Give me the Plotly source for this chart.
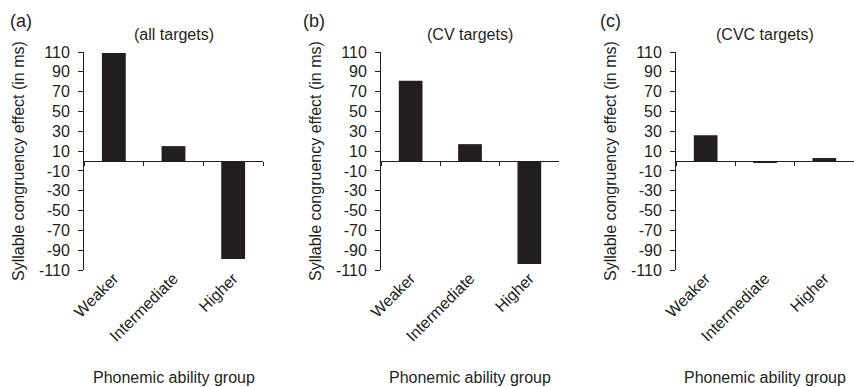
import plotly.graph_objects as go

categories = ["Weaker", "Intermediate", "Higher"]
all_targets = [109, 15, -99]
cv_targets = [81, 17, -104]
cvc_targets = [26, -2, 3]
series = [all_targets, cv_targets, cvc_targets]
panel_letters = ["(a)", "(b)", "(c)"]
panel_titles = ["(all targets)", "(CV targets)", "(CVC targets)"]
y_ticks = list(range(110, -111, -20))
y_title = "Syllable congruency effect (in ms)"
x_title = "Phonemic ability group"

W, H = 854, 387
TOP, BOT = 52, 270
axis_px = [(84, 263), (381, 559), (676, 854)]
letter_px = [21, 314, 610]
INK = "#231f20"
FONT = "Liberation Sans, Arial, sans-serif"
FS = 16


def py(px):
    return (BOT - px) / (BOT - TOP)


fig = go.Figure()
layout = dict(
    width=W, height=H,
    margin=dict(l=0, r=0, t=TOP, b=H - BOT, autoexpand=False),
    paper_bgcolor="white", plot_bgcolor="white",
    showlegend=False,
    font=dict(family=FONT, color=INK, size=FS),
    annotations=[],
)

for i in range(3):
    n = i + 1
    xa = f"x{n if n > 1 else ''}"
    ya = f"y{n if n > 1 else ''}"
    ov = f"x{n + 3}"
    x0, x1 = axis_px[i]
    dom = [x0 / W, x1 / W]
    fig.add_trace(go.Bar(x=categories, y=series[i], xaxis=xa, yaxis=ya,
                         marker=dict(color=INK, line=dict(width=0)),
                         width=0.4, hoverinfo="x+y"))
    fig.add_trace(go.Scatter(x=categories, y=[0, 0, 0], xaxis=ov, yaxis=ya,
                             mode="markers", marker=dict(opacity=0),
                             hoverinfo="skip"))
    layout[f"xaxis{n}"] = dict(
        domain=dom, anchor=ya, type="category",
        categoryorder="array", categoryarray=categories,
        range=[-0.5, 2.5], showline=False, ticks="", showgrid=False,
        zeroline=False, tickangle=-45, ticklabelstandoff=-5,
        tickfont=dict(size=FS, family=FONT, color=INK),
    )
    layout[f"xaxis{n + 3}"] = dict(
        overlaying=xa, anchor="free", position=0.5, type="category",
        categoryorder="array", categoryarray=categories,
        range=[-0.5, 2.5], showline=True, linecolor=INK, linewidth=1,
        ticks="outside", tickson="boundaries", ticklen=4, tickwidth=1,
        tickcolor=INK, showticklabels=False, showgrid=False, zeroline=False,
    )
    layout[f"yaxis{n}"] = dict(
        domain=[0, 1], anchor=xa, range=[-110, 110],
        tickvals=y_ticks, ticktext=[str(v) for v in y_ticks],
        showline=True, linecolor=INK, linewidth=1,
        ticks="outside", ticklen=5, tickwidth=1, tickcolor=INK,
        ticklabelstandoff=5,
        showgrid=False, zeroline=False,
        tickfont=dict(size=FS, family=FONT, color=INK),
    )
    cx = (x0 + x1) / 2 / W
    layout["annotations"] += [
        dict(text=panel_titles[i], x=cx, y=py(35), xref="paper", yref="paper",
             xanchor="center", yanchor="middle", showarrow=False,
             font=dict(size=FS, family=FONT, color=INK)),
        dict(text=panel_letters[i], x=letter_px[i] / W, y=py(21), xref="paper", yref="paper",
             xanchor="center", yanchor="middle", showarrow=False,
             font=dict(size=18, family=FONT, color=INK)),
        dict(text=y_title, x=(x0 - 66) / W, y=0.5, xref="paper", yref="paper",
             xanchor="center", yanchor="middle", showarrow=False, textangle=-90,
             font=dict(size=FS, family=FONT, color=INK)),
        dict(text=x_title, x=cx, y=py(377), xref="paper", yref="paper",
             xanchor="center", yanchor="middle", showarrow=False,
             font=dict(size=FS, family=FONT, color=INK)),
    ]

fig.update_layout(**layout)
fig.write_html("out.html", config={"displayModeBar": False},
               post_script="document.body.style.margin='0';document.body.style.overflow='hidden';")
